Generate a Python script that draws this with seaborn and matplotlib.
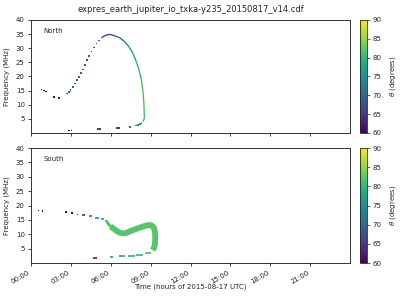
import numpy as np
import pandas as pd
import matplotlib
matplotlib.use("Agg")
import matplotlib.pyplot as plt
import seaborn as sns

# ---------------- data (hours of day, MHz, theta in degrees) ----------------
# North: isolated dots and the dotted rising arc
north_dot_t = [0.80, 0.99, 1.14, 1.75, 2.12, 2.85, 3.05,
               2.72, 2.85, 2.98, 3.15, 3.30, 3.45, 3.62, 3.78, 3.93, 4.08,
               4.22, 4.38, 4.55, 4.72, 4.93, 5.10,
               8.30, 8.18, 8.03, 7.88, 7.43]
north_dot_f = [15.4, 15.0, 14.7, 12.7, 12.4, 0.95, 0.95,
               14.0, 14.5, 15.2, 16.3, 17.5, 18.7, 19.9, 21.2, 22.5, 24.1,
               25.8, 27.3, 28.8, 30.3, 31.7, 32.8,
               3.5, 3.1, 2.8, 2.6, 2.1]
north_dot_th = [60, 60, 60, 61, 62, 60, 60,
                70, 70, 70, 70, 69, 69, 69, 69, 68, 68,
                68, 68, 67, 67, 67, 66,
                78, 77, 76, 75, 71]
# North: continuous part (peak, descent, vertical branch)
north_curve_t = [5.30, 5.50, 5.68, 5.93, 6.30, 6.68, 7.05, 7.37, 7.67,
                 7.93, 8.13, 8.30, 8.43, 8.50, 8.53, 8.43]
north_curve_f = [33.7, 34.3, 34.7, 34.9, 34.4, 33.7, 32.3, 30.5, 28.2,
                 25.2, 22.3, 18.8, 14.6, 9.9, 5.2, 4.0]
north_curve_th = [66, 65, 65, 64, 67, 70, 73, 75, 77,
                  79, 80, 81, 81, 81, 81, 79]
# North: short dashes near the bottom
north_dash_t0 = [4.98, 6.43]
north_dash_t1 = [5.28, 6.70]
north_dash_f = [1.3, 1.65]
north_dash_th = [60, 61]

# South: isolated dots
south_dot_t = [0.55, 0.85, 2.63, 3.10, 3.50]
south_dot_f = [18.3, 18.0, 17.7, 17.3, 16.9]
south_dot_th = [60, 60, 60, 60, 61]
# South: short dashes
south_dash_t0 = [3.85, 4.35, 4.85, 5.25, 5.55, 4.63, 5.93, 6.63, 7.30, 7.93, 8.55]
south_dash_t1 = [4.05, 4.58, 5.08, 5.48, 5.78, 4.93, 6.18, 7.05, 7.80, 8.43, 9.05]
south_dash_f = [16.6, 16.2, 15.8, 15.3, 14.6, 1.7, 2.1, 2.3, 2.5, 2.9, 3.6]
south_dash_th = [63, 67, 72, 75, 78, 60, 73, 76, 77, 78, 79]
# South: thick band (thin lead-in, then full band)
south_lead_t = [5.70, 5.85, 6.00]
south_lead_f = [14.3, 13.5, 12.7]
south_band_t = [6.00, 6.20, 6.43, 6.70, 6.93, 7.20, 7.43, 7.93, 8.43,
                8.80, 9.05, 9.22, 9.32, 9.35, 9.33, 9.28, 9.15]
south_band_f = [12.7, 12.0, 11.2, 10.5, 10.3, 10.5, 11.0, 11.9, 12.7,
                13.2, 13.1, 12.5, 11.0, 9.0, 7.0, 5.5, 4.5]
south_band_theta = 82

x_ticks = [0, 3, 6, 9, 12, 15, 18, 21]
x_tick_labels = ["00:00", "03:00", "06:00", "09:00", "12:00", "15:00", "18:00", "21:00"]
y_ticks = [5, 10, 15, 20, 25, 30, 35, 40]
cbar_ticks = [60, 65, 70, 75, 80, 85, 90]

# ---------------- figure ----------------
sns.set_style("ticks")
plt.rcParams['font.family'] = ['DejaVu Sans']
FS = 5
cmap = "viridis"
norm = matplotlib.colors.Normalize(60, 90)

fig = plt.figure(figsize=(4, 3), dpi=100)
ax1 = fig.add_axes([0.0775, 0.5567, 0.7975, 0.3767])
ax2 = fig.add_axes([0.0775, 0.1233, 0.7975, 0.3833])
cax1 = fig.add_axes([0.9, 0.5567, 0.0175, 0.3767])
cax2 = fig.add_axes([0.9, 0.1233, 0.0175, 0.3833])


def seg_frame(t, f, th):
    rows = []
    for i in range(len(t) - 1):
        th_m = 0.5 * (th[i] + th[i + 1])
        rows.append((t[i], f[i], th_m, i))
        rows.append((t[i + 1], f[i + 1], th_m, i))
    return pd.DataFrame(rows, columns=["t", "f", "theta", "seg"])


def dash_frame(t0, t1, f, th):
    rows = []
    for i in range(len(t0)):
        rows.append((t0[i], f[i], th[i], i))
        rows.append((t1[i], f[i], th[i], i))
    return pd.DataFrame(rows, columns=["t", "f", "theta", "seg"])


def draw_lines(ax, df, lw):
    sns.lineplot(data=df, x="t", y="f", hue="theta", units="seg", estimator=None,
                 sort=False, palette=cmap, hue_norm=(60, 90), linewidth=lw,
                 legend=False, ax=ax, solid_capstyle="butt")


def draw_dots(ax, t, f, th):
    df = pd.DataFrame({"t": t, "f": f, "theta": th})
    sns.scatterplot(data=df, x="t", y="f", hue="theta", palette=cmap,
                    hue_norm=(60, 90), marker="s", s=1.3, linewidth=0,
                    legend=False, ax=ax)


# North
draw_dots(ax1, north_dot_t, north_dot_f, north_dot_th)
draw_lines(ax1, seg_frame(north_curve_t, north_curve_f, north_curve_th), 1.0)
draw_lines(ax1, dash_frame(north_dash_t0, north_dash_t1, north_dash_f, north_dash_th), 1.2)

# South
draw_dots(ax2, south_dot_t, south_dot_f, south_dot_th)
draw_lines(ax2, dash_frame(south_dash_t0, south_dash_t1, south_dash_f, south_dash_th), 1.1)
band_color = plt.get_cmap(cmap)(norm(south_band_theta))
lead_df = pd.DataFrame({"t": south_lead_t, "f": south_lead_f})
sns.lineplot(data=lead_df, x="t", y="f", sort=False, estimator=None,
             color=band_color, linewidth=2.2, ax=ax2, solid_capstyle="butt")
band_df = pd.DataFrame({"t": south_band_t, "f": south_band_f})
sns.lineplot(data=band_df, x="t", y="f", sort=False, estimator=None,
             color=band_color, linewidth=4.2,
             ax=ax2, solid_capstyle="butt", solid_joinstyle="round")

for ax, name in [(ax1, "North"), (ax2, "South")]:
    ax.set_xlim(0, 24)
    ax.set_ylim(0, 40)
    ax.set_yticks(y_ticks)
    ax.set_yticklabels([str(v) for v in y_ticks], fontsize=FS)
    ax.set_xticks(x_ticks)
    ax.tick_params(length=2.5, width=0.6, pad=2, colors="#222222")
    for sp in ax.spines.values():
        sp.set_visible(True)
        sp.set_linewidth(0.7)
        sp.set_color("#333333")
    ax.set_ylabel("Frequency (MHz)", fontsize=FS)
    ax.yaxis.set_label_coords(-0.066, 0.5)
    ax.set_xlabel("")
    ax.text(0.038, 0.905, name, transform=ax.transAxes, fontsize=FS,
            ha="left", va="center")

ax1.set_xticklabels([])
ax2.set_xticklabels(x_tick_labels, fontsize=FS, rotation=30, ha="right")

fig.text(0.476, 0.967, "expres_earth_jupiter_io_txka-y235_20150817_v14.cdf",
         fontsize=6, ha="center", va="center")
fig.text(0.476, 0.043, "Time (hours of 2015-08-17 UTC)", fontsize=FS,
         ha="center", va="center")

sm = matplotlib.cm.ScalarMappable(norm=norm, cmap=cmap)
for cax in (cax1, cax2):
    cb = fig.colorbar(sm, cax=cax)
    cb.set_ticks(cbar_ticks)
    cb.ax.tick_params(labelsize=FS, length=2, width=0.5, pad=2)
    cb.outline.set_linewidth(0.6)
    cb.set_label(r"$\theta$ (degrees)", fontsize=FS)
    cb.ax.yaxis.set_label_coords(4.0, 0.5)

fig.savefig("out.png", dpi=100)
